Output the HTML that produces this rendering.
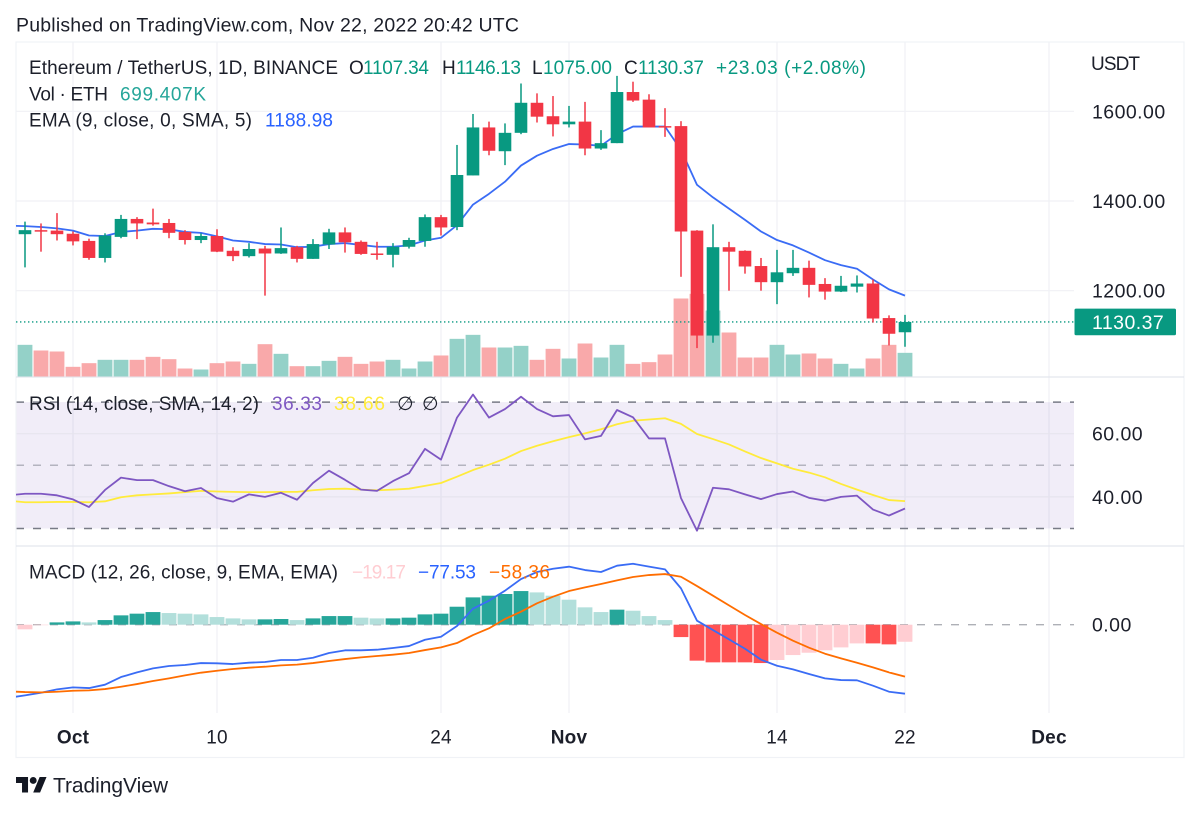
<!DOCTYPE html>
<html lang="en">
<head>
<meta charset="utf-8">
<title>ETH/USDT TradingView chart</title>
<style>
html,body{margin:0;padding:0;background:#fff;}
svg{display:block;}
text{font-family:"Liberation Sans","DejaVu Sans",sans-serif;font-size:19px;fill:#1c1f2a;}
</style>
</head>
<body>
<svg id="chart" width="1200" height="813" viewBox="0 0 1200 813" xmlns="http://www.w3.org/2000/svg">
  <defs>
    <clipPath id="main-clip"><rect x="16" y="42" width="1058" height="335"/></clipPath>
    <clipPath id="rsi-clip"><rect x="16" y="378" width="1058" height="168"/></clipPath>
    <clipPath id="macd-clip"><rect x="16" y="547" width="1058" height="166"/></clipPath>
  </defs>

  <rect x="0" y="0" width="1200" height="813" fill="#ffffff"/>
  <text x="16" y="31.7" style="font-size:19.5px" textLength="503" lengthAdjust="spacing">Published on TradingView.com, Nov 22, 2022 20:42 UTC</text>

  <g id="grid"></g>
  <rect id="rsi-band" x="16" width="1058" fill="#7e57c2" fill-opacity="0.11"/>
  <g id="hgrid"></g>

  <rect x="16" y="42" width="1168" height="715.5" fill="none" stroke="#f0f2f6" stroke-width="1.2"/>
  <line x1="16" x2="1184" y1="377" y2="377" stroke="#e3e6ee" stroke-width="1.2"/>
  <line x1="16" x2="1184" y1="546" y2="546" stroke="#e3e6ee" stroke-width="1.2"/>

  <g id="volume" clip-path="url(#main-clip)"></g>
  <g id="last-line"></g>
  <g id="ema" clip-path="url(#main-clip)"></g>
  <g id="candles" clip-path="url(#main-clip)"></g>
  <g id="rsi" clip-path="url(#rsi-clip)"></g>
  <g id="hist" clip-path="url(#macd-clip)"></g>
  <g id="macd" clip-path="url(#macd-clip)"></g>
  <g id="axis"></g>

  <g>
    <text x="29" y="74" textLength="309">Ethereum / TetherUS, 1D, BINANCE</text>
    <text x="349" y="74" textLength="14">O</text>
    <text x="363" y="74" textLength="66" style="fill:#089981">1107.34</text>
    <text x="442" y="74" textLength="13">H</text>
    <text x="456" y="74" textLength="65" style="fill:#089981">1146.13</text>
    <text x="532" y="74" textLength="10">L</text>
    <text x="543" y="74" textLength="69" style="fill:#089981">1075.00</text>
    <text x="624" y="74" textLength="13">C</text>
    <text x="638" y="74" textLength="66" style="fill:#089981">1130.37</text>
    <text x="716" y="74" textLength="150" style="fill:#089981">+23.03 (+2.08%)</text>
    <text x="29" y="100.7" textLength="79">Vol · ETH</text>
    <text x="120" y="100.7" textLength="86" style="fill:#26a69a">699.407K</text>
    <text x="29" y="126.7" textLength="223">EMA (9, close, 0, SMA, 5)</text>
    <text x="265" y="126.7" textLength="68" style="fill:#2962ff">1188.98</text>
  </g>
  <g>
    <text x="29" y="410" textLength="230">RSI (14, close, SMA, 14, 2)</text>
    <text x="272" y="410" textLength="50" style="fill:#7e57c2">36.33</text>
    <text x="334" y="410" textLength="51" style="fill:#ffeb3b">38.66</text>
    <text x="397" y="410" textLength="11">∅</text>
    <text x="422" y="410" textLength="11">∅</text>
  </g>
  <g>
    <text x="29" y="578.3" textLength="309">MACD (12, 26, close, 9, EMA, EMA)</text>
    <text x="352" y="578.3" textLength="54" style="fill:#ffcdd2">−19.17</text>
    <text x="418" y="578.3" textLength="58" style="fill:#2962ff">−77.53</text>
    <text x="489" y="578.3" textLength="61" style="fill:#ff6d00">−58.36</text>
  </g>

  <text x="1091" y="70" textLength="49">USDT</text>

  <g transform="translate(16,773.6) scale(0.86)">
    <path d="M14 22H7V11H0V4h14v18ZM28 22h-8l7.5-18h8L28 22Z" fill="#131722"/>
    <circle cx="20" cy="8" r="4" fill="#131722"/>
  </g>
  <text x="53" y="792.7" style="font-size:21px" textLength="115">TradingView</text>
</svg>

<script>
const opens = [1326,1335,1334,1327,1311,1273,1320,1360,1352,1351,1331,1313,1322,1289,1277,1294,1283,1297,1271,1303,1330,1309,1283,1280,1298,1311,1364,1342,1457,1564,1511,1552,1619,1589,1571,1577,1517,1529,1643,1626,1567,1567,1334,1100,1297,1289,1255,1219,1239,1251,1215,1198,1209,1216,1139,1107.34];
const highs = [1354,1350,1373,1332,1316,1328,1369,1364,1383,1360,1335,1328,1337,1297,1306,1300,1341,1300,1315,1338,1341,1312,1309,1306,1318,1370,1369,1525,1594,1577,1573,1662,1640,1634,1612,1621,1558,1679,1666,1638,1607,1578,1335,1348,1309,1290,1273,1291,1291,1267,1228,1233,1234,1225,1145,1146.13];
const lows = [1252,1287,1312,1301,1269,1263,1317,1315,1345,1317,1303,1306,1286,1266,1274,1189,1282,1263,1271,1293,1285,1280,1269,1252,1294,1298,1323,1335,1457,1502,1480,1549,1575,1544,1564,1502,1514,1529,1621,1564,1543,1231,1072,1084,1200,1238,1200,1170,1233,1185,1180,1197,1196,1129,1078,1075];
const closes = [1335,1332,1326,1310,1273,1323,1360,1350,1348,1329,1313,1322,1287,1277,1293,1283,1295,1271,1304,1330,1308,1282,1280,1298,1313,1364,1341,1458,1564,1512,1552,1619,1588,1571,1577,1517,1529,1643,1624,1564,1564,1332,1100,1297,1287,1254,1219,1241,1251,1213,1198,1211,1216,1138,1104,1130.37];
const volumes = [936,768,739,286,394,493,493,493,581,512,236,207,394,443,374,955,670,305,305,463,581,374,443,493,236,443,621,1113,1231,857,857,906,493,818,532,975,561,936,374,424,650,2305,2443,1950,1300,561,561,936,650,680,532,374,236,532,936,699.4];

/* Line series start one session before the first candle (runs off the pane's left edge). */
const emaValues = [1345,1344,1342,1339,1334,1323,1322,1331,1334,1338,1337,1331,1329,1321,1312,1309,1304,1303,1297,1298,1304,1306,1302,1298,1298,1301,1312,1318,1346,1392,1416,1443,1479,1501,1516,1527,1526,1523,1549,1566,1566,1566,1514,1436,1408,1383,1358,1332,1313,1301,1285,1268,1257,1249,1225,1203,1188.98];
const rsiValues = [40.5,41.0,41.0,40.5,39.2,36.8,42.2,46.1,45.3,45.3,43.4,41.8,42.8,39.6,38.5,40.8,40.0,41.3,39.1,44.4,48.3,45.4,42.3,41.9,45.0,47.5,55.2,51.8,65.1,72.4,65.1,67.8,71.7,67.8,65.5,65.9,58.2,59.3,67.5,65.2,58.5,58.5,39.6,29.3,42.9,42.4,40.8,39.3,40.9,41.7,39.7,38.8,40.0,40.4,36.0,34.1,36.33];
const rsiMaValues = [38.8,38.3,38.3,38.4,38.4,38.3,38.6,39.9,40.5,40.8,41.1,41.5,41.9,41.7,41.6,41.5,41.5,41.6,41.6,42.1,42.5,42.6,42.3,42.1,42.3,42.6,43.5,44.4,46.4,48.5,50.2,52.1,54.5,56.2,57.6,58.9,60.1,61.4,63.0,64.1,64.5,64.9,63.1,59.9,58.3,56.6,54.4,52.3,50.6,48.9,47.7,46.2,44.1,42.3,40.6,39.0,38.66];
const macdValues = [-82.0,-79.4,-76.4,-72.7,-70.4,-71.2,-67.4,-58.8,-53.6,-49.1,-46.4,-45.3,-43.1,-43.4,-44.2,-42.7,-41.9,-39.7,-39.7,-37.1,-31.8,-28.8,-28.8,-28.1,-26.2,-24.0,-16.9,-13.5,-1.5,18.0,27.0,38.2,51.3,59.2,62.9,65.2,61.4,59.2,66.3,68.5,65.2,62.2,40.8,4.5,-6.0,-16.5,-27.0,-39.3,-46.1,-50.2,-55.4,-60.3,-62.2,-62.5,-68.5,-75.3,-77.53];
const signalValues = [-74.9,-75.7,-76.0,-75.3,-74.2,-73.8,-72.3,-69.7,-66.7,-63.3,-60.3,-56.9,-53.9,-51.7,-49.8,-48.3,-47.2,-45.7,-44.9,-43.1,-40.8,-38.6,-36.7,-35.2,-33.7,-31.8,-28.5,-25.5,-20.6,-11.6,-4.1,6.4,14.6,24.0,31.5,37.8,41.9,45.7,49.8,53.6,55.8,56.9,53.9,43.4,32.6,21.7,10.9,0.7,-9.0,-18.0,-25.8,-32.6,-37.8,-42.7,-47.9,-53.6,-58.36];
const histValues = [-5.2,-0.4,2.6,3.7,2.6,5.2,10.5,12.4,14.2,13.1,12.4,11.6,8.6,7.1,6.0,6.0,6.4,5.2,7.1,9.7,9.7,7.9,7.1,7.1,7.9,11.6,12.4,20.2,30.7,32.6,34.5,37.8,36.3,32.6,28.1,19.5,14.2,16.9,15.7,9.7,5.2,-13.9,-40.4,-42.3,-42.3,-42.3,-43.1,-39.7,-34.1,-31.5,-28.8,-25.5,-21.0,-21.0,-22.1,-19.17];

const priceTicks = [1600,1400,1200];
const rsiTicks = [60,40];
const rsiBands = [70,50,30];
const macdTicks = [0];
const timeLabels = ['Oct','10','24','Nov','14','22','Dec'];
const timeSessions = [3,12,26,34,47,55,64];

const xAt = i => 25 + 16 * i;
const yPrice = p => 111.3 + (1600 - p) * 0.4485;
const yVol = v => 376.5 - v / 29.55;
const yRsi = v => 465.3 - (v - 50) * 3.16;
const yMacd = v => 624.7 - v * 0.89;

const NS = 'http://www.w3.org/2000/svg';
const GREEN = '#089981', RED = '#f23645';
function mk(tag, parentId, attrs) {
  const el = document.createElementNS(NS, tag);
  for (const k in attrs) el.setAttribute(k, attrs[k]);
  document.getElementById(parentId).appendChild(el);
  return el;
}
function linePoints(values) {
  return values.map((v, i) => [xAt(i - 1), v]);
}
function pathOf(values, yFn) {
  return linePoints(values).map(p => p[0] + ',' + yFn(p[1]).toFixed(2)).join(' ');
}

/* grid */
timeSessions.forEach(i => {
  const g = mk('line', 'grid', {x1: xAt(i), x2: xAt(i), y1: 42, y2: 713, stroke: '#f0f1f5', 'stroke-width': 1.2});
  
  
});
const band = document.getElementById('rsi-band');
band.setAttribute('y', yRsi(rsiBands[0]));
band.setAttribute('height', yRsi(rsiBands[2]) - yRsi(rsiBands[0]));

priceTicks.forEach(p => {
  const g = mk('line', 'hgrid', {x1: 16, x2: 1074, y1: yPrice(p), y2: yPrice(p), stroke: '#f0f1f5', 'stroke-width': 1.2});
  
  
});
rsiTicks.forEach(v => {
  const g = mk('line', 'hgrid', {x1: 16, x2: 1074, y1: yRsi(v), y2: yRsi(v), stroke: '#e6e4ee', 'stroke-width': 1.2});
  
  
});
rsiBands.forEach((v, k) => {
  const g = mk('line', 'hgrid', {x1: 16, x2: 1074, y1: yRsi(v), y2: yRsi(v), stroke: '#787b86', 'stroke-opacity': k === 1 ? 0.5 : 1, 'stroke-width': 1.5, 'stroke-dasharray': '8 9'});
  
  
});
macdTicks.forEach(v => {
  const g = mk('line', 'hgrid', {x1: 16, x2: 1074, y1: yMacd(v), y2: yMacd(v), stroke: '#787b86', 'stroke-opacity': 0.6, 'stroke-width': 1.3, 'stroke-dasharray': '8 9'});
  
  
});

/* volume */
volumes.forEach((v, i) => {
  const up = closes[i] >= opens[i];
  const b = mk('rect', 'volume', {x: xAt(i) - 7.4, y: yVol(v), width: 14.8, height: 376.5 - yVol(v), fill: up ? '#94d1c8' : '#f9a9aa'});
  
  
});

/* last price line */
const lastClose = closes[closes.length - 1];
const lastLine = mk('line', 'last-line', {x1: 16, x2: 1074, y1: yPrice(lastClose), y2: yPrice(lastClose), stroke: GREEN, 'stroke-width': 1.4, 'stroke-dasharray': '1.4 2.6'});



/* EMA */
const emaLine = mk('polyline', 'ema', {points: pathOf(emaValues, yPrice), fill: 'none', stroke: '#3a6cf5', 'stroke-width': 1.8, 'stroke-linejoin': 'round'});



/* candles */
opens.forEach((o, i) => {
  const c = closes[i], col = c >= o ? GREEN : RED;
  const wick = mk('rect', 'candles', {x: xAt(i) - 0.75, y: yPrice(highs[i]), width: 1.5, height: yPrice(lows[i]) - yPrice(highs[i]), fill: col});
  
  
  const top = yPrice(Math.max(o, c));
  const body = mk('rect', 'candles', {x: xAt(i) - 6.3, y: top, width: 12.6, height: Math.max(1.5, yPrice(Math.min(o, c)) - top), fill: col});
  
  
});

/* RSI */
const maLine = mk('polyline', 'rsi', {points: pathOf(rsiMaValues, yRsi), fill: 'none', stroke: '#ffeb3b', 'stroke-width': 1.8, 'stroke-linejoin': 'round'});


const rsiLine = mk('polyline', 'rsi', {points: pathOf(rsiValues, yRsi), fill: 'none', stroke: '#7e57c2', 'stroke-width': 1.8, 'stroke-linejoin': 'round'});



/* MACD histogram */
histValues.forEach((v, i) => {
  const prev = i > 0 ? histValues[i - 1] : undefined;
  let col;
  if (v >= 0) col = v >= prev ? '#26a69a' : '#b2dfdb';
  else col = v <= prev ? '#ff5252' : '#ffcdd2';
  const y0 = yMacd(Math.max(v, 0)), y1 = yMacd(Math.min(v, 0));
  const b = mk('rect', 'hist', {x: xAt(i) - 7.4, y: y0, width: 14.8, height: Math.max(0.5, y1 - y0), fill: col});
  
  
});
const macdLine = mk('polyline', 'macd', {points: pathOf(macdValues, yMacd), fill: 'none', stroke: '#3a6cf5', 'stroke-width': 1.8, 'stroke-linejoin': 'round'});


const signalLine = mk('polyline', 'macd', {points: pathOf(signalValues, yMacd), fill: 'none', stroke: '#ff6d00', 'stroke-width': 1.8, 'stroke-linejoin': 'round'});



/* axis labels */
function tickText(value, y) {
  const t = mk('text', 'axis', {x: 1092, y: y + 7, style: 'font-size:19.5px;letter-spacing:0.45px'});
  t.textContent = value.toFixed(2);
  return t;
}
priceTicks.forEach(p => {
  const t = tickText(p, yPrice(p));
  
  
});
rsiTicks.forEach(v => {
  const t = tickText(v, yRsi(v));
  
  
});
macdTicks.forEach(v => {
  const t = tickText(v, yMacd(v));
  
  
});
const tag = mk('rect', 'axis', {x: 1074.5, y: yPrice(lastClose) - 13.3, width: 101.5, height: 26.6, rx: 1.5, fill: GREEN});


const tagText = mk('text', 'axis', {x: 1092, y: yPrice(lastClose) + 7, style: 'font-size:19.5px;letter-spacing:0.45px;fill:#ffffff'});


tagText.textContent = lastClose.toFixed(2);

timeLabels.forEach((label, k) => {
  const bold = isNaN(label);
  const t = mk('text', 'axis', {x: xAt(timeSessions[k]), y: 743.5, 'text-anchor': 'middle', style: 'font-size:19px;letter-spacing:0.2px;font-weight:' + (bold ? 700 : 400)});
  
  
  t.textContent = label;
});
</script>
</body>
</html>
